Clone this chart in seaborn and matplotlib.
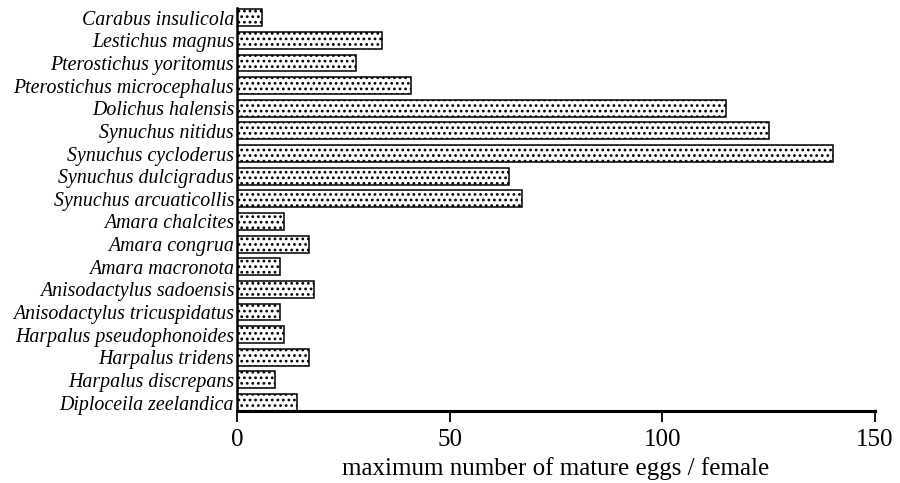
import matplotlib
matplotlib.use("Agg")
import matplotlib.pyplot as plt
import seaborn as sns
import pandas as pd

species = [
    "Carabus insulicola", "Lestichus magnus", "Pterostichus yoritomus",
    "Pterostichus microcephalus", "Dolichus halensis", "Synuchus nitidus",
    "Synuchus cycloderus", "Synuchus dulcigradus", "Synuchus arcuaticollis",
    "Amara chalcites", "Amara congrua", "Amara macronota",
    "Anisodactylus sadoensis", "Anisodactylus tricuspidatus",
    "Harpalus pseudophonoides", "Harpalus tridens", "Harpalus discrepans",
    "Diploceila zeelandica",
]
eggs = [6, 34, 28, 41, 115, 125, 140, 64, 67, 11, 17, 10, 18, 10, 11, 17, 9, 14]
xticks = [0, 50, 100, 150]
xlabel = "maximum number of mature eggs / female"

df = pd.DataFrame({"species": species, "eggs": eggs})

sns.set_style("ticks")
plt.rcParams["font.family"] = ["Liberation Serif", "DejaVu Serif"]
plt.rcParams["hatch.linewidth"] = 1.2
plt.rcParams["hatch.color"] = "black"
plt.rcParams["text.color"] = "black"
plt.rcParams["xtick.color"] = "black"
plt.rcParams["ytick.color"] = "black"
plt.rcParams["axes.labelcolor"] = "black"

fig = plt.figure(figsize=(9, 4.83), dpi=100)
ax = fig.add_axes([0.2633, 0.149, 0.709, 0.834])

sns.barplot(data=df, x="eggs", y="species", orient="h", color="white",
            edgecolor="black", linewidth=1.1, width=0.75, ax=ax,
            saturation=1)
for p in ax.patches:
    p.set_hatch("...")
    p.set_facecolor("white")
    p.set_edgecolor("black")

ax.set_xlim(0, 150)
ax.set_ylim(len(species) - 0.625, -0.42)
ax.set_xticks(xticks)
ax.set_xticklabels([str(t) for t in xticks], fontsize=18, color="black")
ax.set_yticks(range(len(species)))
ax.set_yticklabels(species, fontsize=14.3, style="italic", color="black")
ax.tick_params(axis="y", length=0, pad=2)
ax.tick_params(axis="x", length=8, width=1.3, direction="out", pad=5)
ax.set_xlabel(xlabel, fontsize=18, labelpad=4, color="black")
ax.set_ylabel("")
for s in ["top", "right"]:
    ax.spines[s].set_visible(False)
ax.spines["left"].set_linewidth(1.8)
ax.spines["bottom"].set_linewidth(2.2)
ax.spines["left"].set_color("black")
ax.spines["bottom"].set_color("black")

fig.savefig("out.png", dpi=100)
